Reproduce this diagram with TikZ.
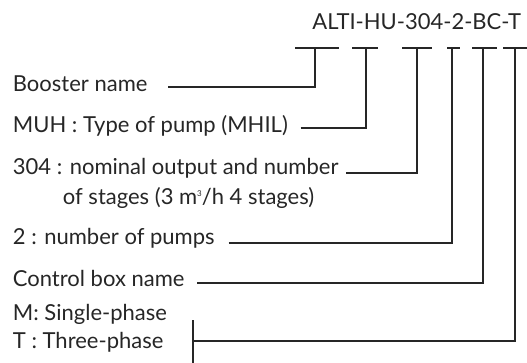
\documentclass[tikz,border=0pt]{standalone}
\usepackage{fontspec}
\setmainfont{Lato}
\begin{document}
\begin{tikzpicture}[
			x=1pt, y=-1pt, line width=1.8pt,
			entry/.style={anchor=base west, inner sep=0pt, text=black!85, font=\fontsize{22}{26}\selectfont},
			lead/.style={line width=1.8pt, line join=miter, black!85}]
			\useasboundingbox (0,0) rectangle (527,363);
			\def\yb{48}    %% quota delle barrette sotto il codice
			
			%% codice del gruppo
			\node[entry, anchor=base east] (code) at (522,30) {ALTI-HU-304-2-BC-T};
			
			%% barrette, una per ogni parte del codice
			\foreach \name/\xa/\xm/\xb in {alti/295/315/339, hu/352/366/378, num/402/417/432,
				npump/447/452/460, box/472/483/497, phase/503/515/527}{
				\draw[lead] (\xa,\yb) -- (\xb,\yb);
				\draw[lead] (\xm,\yb) -- (\xm,\yb+1);
				\coordinate (\name) at (\xm,\yb);
			}
			
			%% voci della legenda
			\node[entry] (booster) at (12,92) {Booster name};
			\node[entry] (muh) at (12,133) {MUH : Type of pump (MHIL)};
			\node[entry] (nom) at (12,175) {304 : nominal output and number};
			\node[entry] (stages) at (62,205) {of stages (3 m\raisebox{8pt}{\fontsize{8}{8}\selectfont 3}/h 4 stages)};
			\node[entry] (pumps) at (12,245) {2 : number of pumps};
			\node[entry] (ctrl) at (12,287) {Control box name};
			\node[entry] (mono) at (12,320) {M: Single-phase};
			\node[entry] (tri) at (12,348) {T : Three-phase};
			
			%% linee di richiamo
			\draw[lead] ([xshift=20pt, yshift=5pt]booster.base east) -| (alti);
			\draw[lead] ([xshift=12pt, yshift=5pt]muh.base east) -| (hu);
			\draw[lead] ([xshift=7pt, yshift=2pt]nom.base east) -| (num);
			\draw[lead] ([xshift=13pt, yshift=2pt]pumps.base east) -| (npump);
			\draw[lead] ([xshift=12pt, yshift=4pt]ctrl.base east) -| (box);
			
			%% graffa per le due alimentazioni
			\coordinate (bt) at (193,320);
			\coordinate (bb) at (193,363);
			\draw[lead] (bt) -- (bb);
			\draw[lead] (bt |- 0,341) -| (phase);
		\end{tikzpicture}
\end{document}
